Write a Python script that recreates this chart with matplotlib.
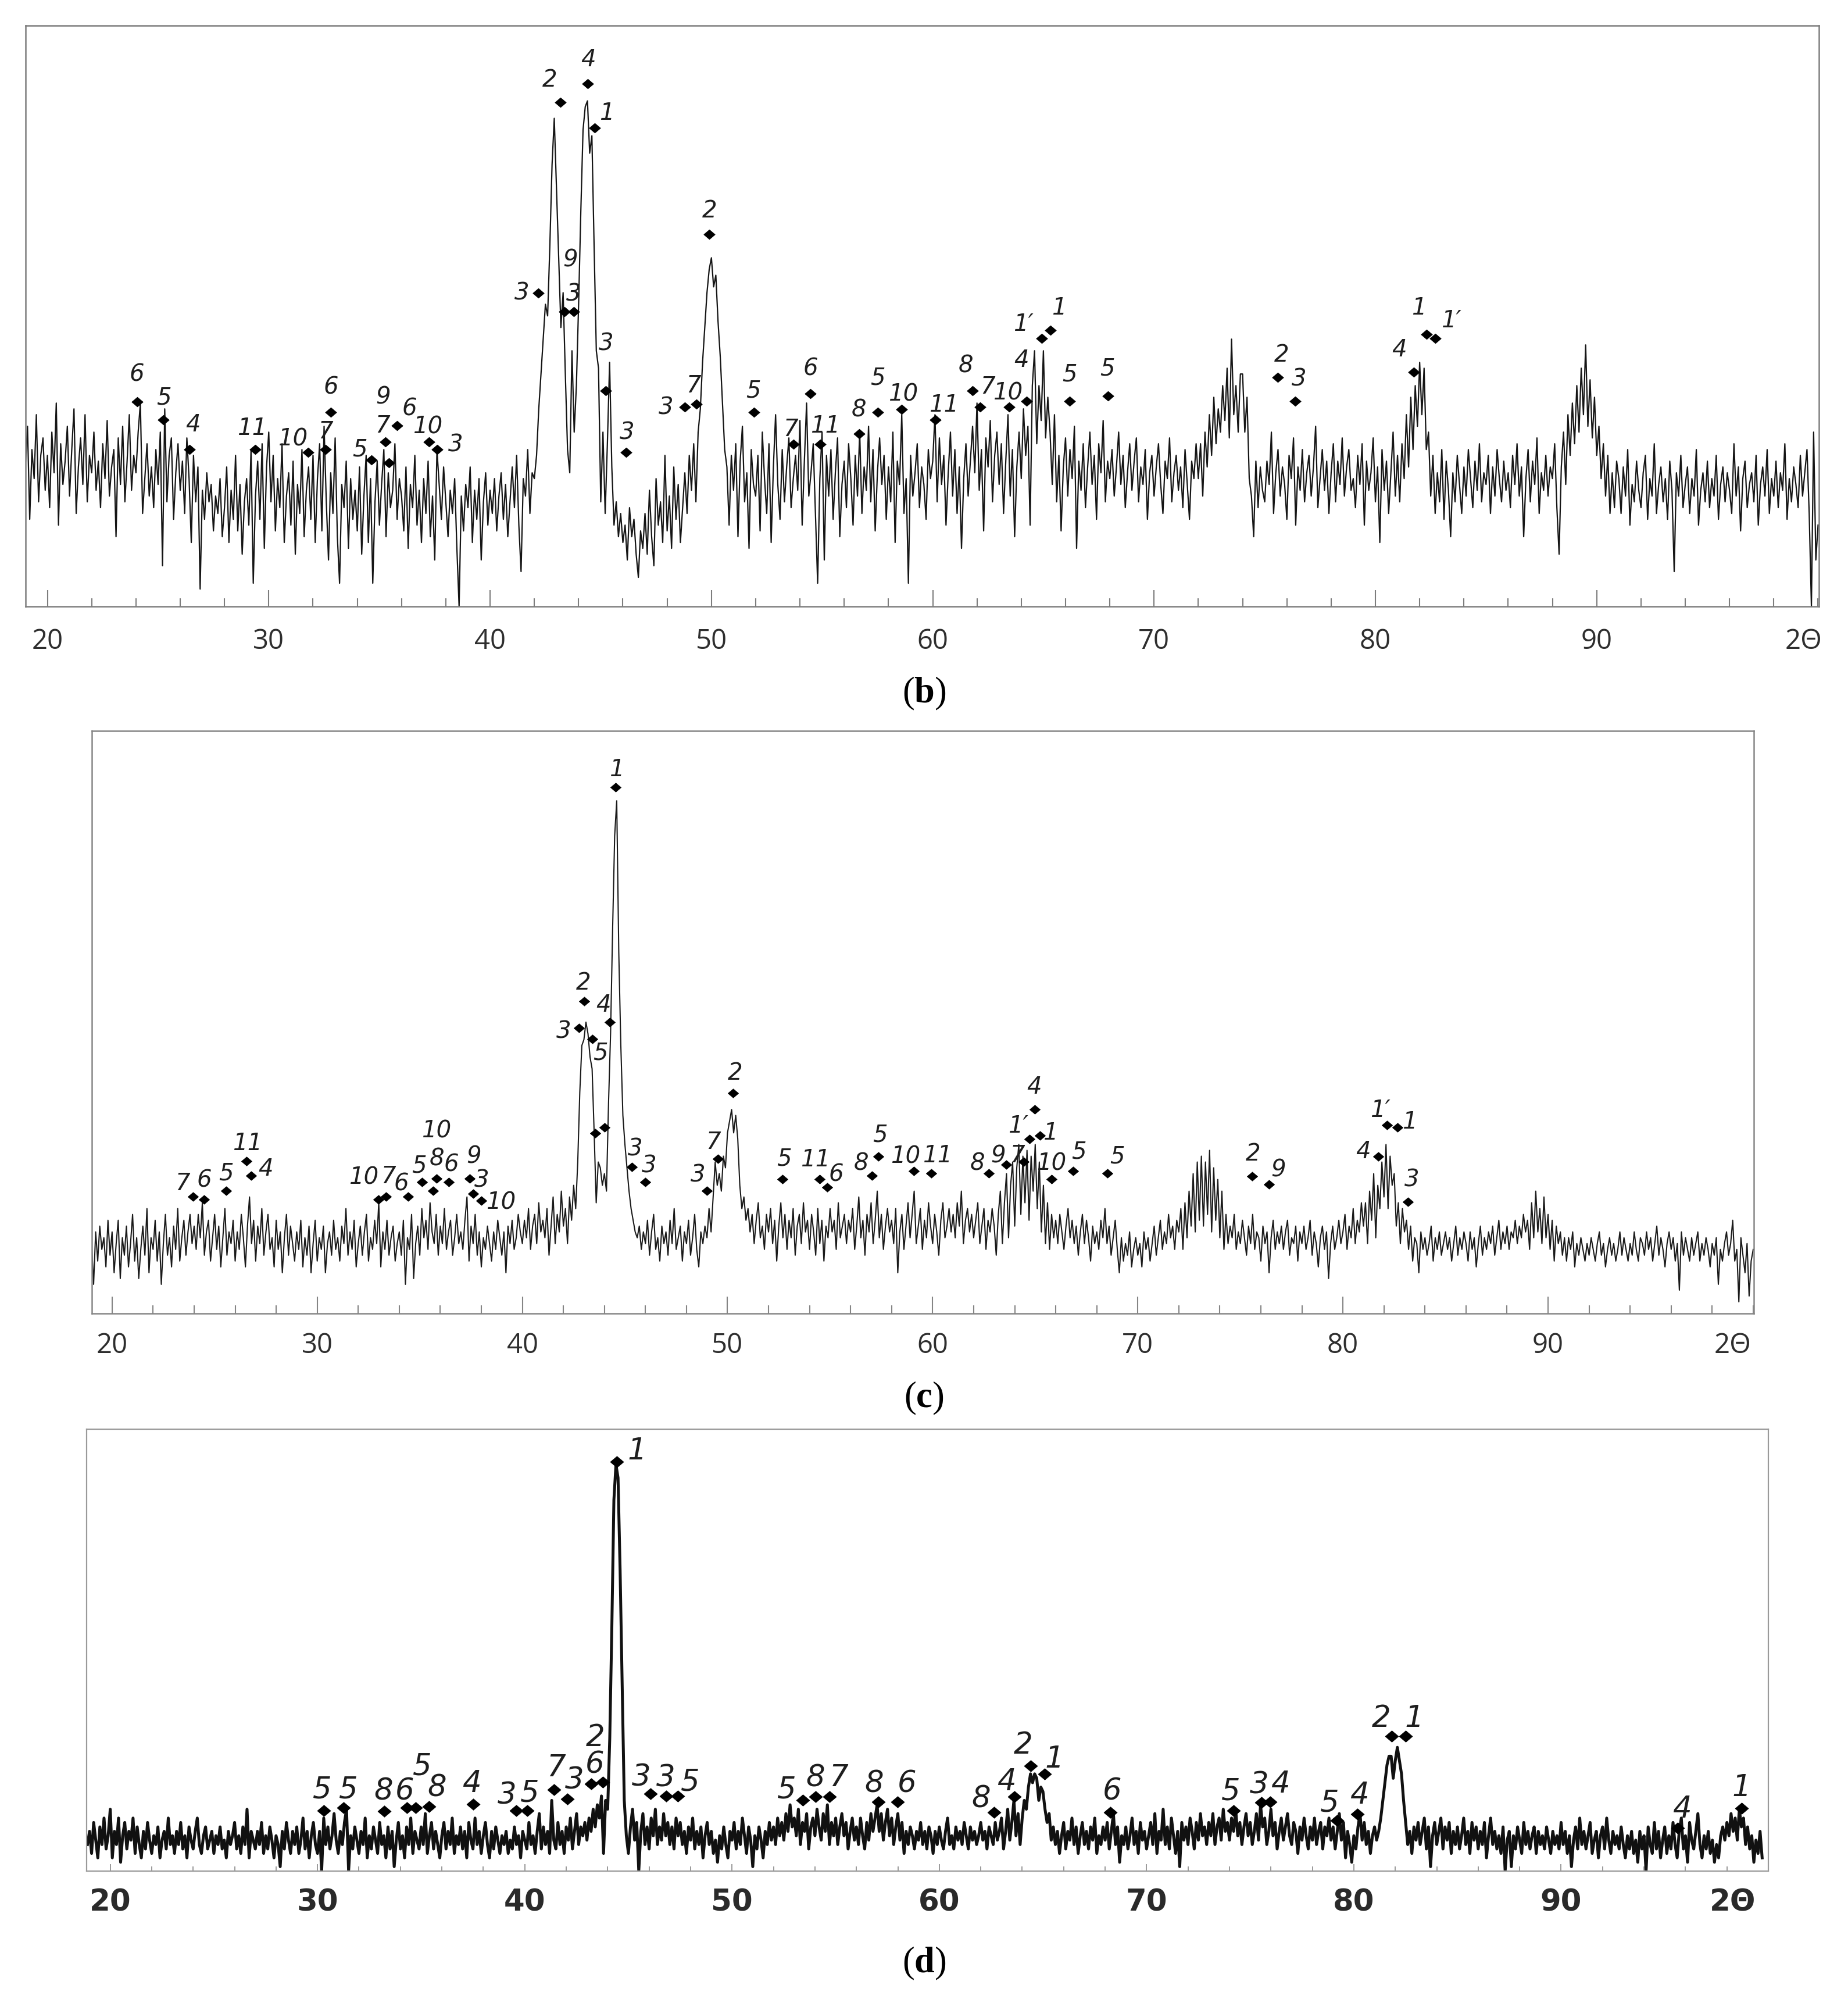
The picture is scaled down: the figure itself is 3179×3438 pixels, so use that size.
import numpy as np
import matplotlib
matplotlib.use("Agg")
import matplotlib.pyplot as plt

plt.rcParams["mathtext.fontset"] = "custom"
plt.rcParams["mathtext.rm"] = "Liberation Serif"
plt.rcParams["mathtext.bf"] = "Liberation Serif:bold"

# =============================================================================
# DATA
# =============================================================================
# intensity in % of frame height (0 = bottom), one value every 0.1 deg 2-theta

B_START = 19.0
INTENSITY_B = [
    24, 31, 15, 27, 22, 33, 18, 26, 29, 20,  # 19
    26, 17, 30, 23, 35, 14, 28, 21, 25, 31,  # 20
    19, 27, 34, 16, 24, 29, 21, 33, 18, 26,
    23, 30, 20, 25, 17, 28, 22, 32, 19, 24,
    27, 12, 29, 21, 31, 18, 25, 33, 20, 26,
    23, 30, 35, 16, 22, 28, 19, 24, 17, 27,
    21, 30, 7, 34, 18, 26, 29, 15, 23, 28,
    20, 25, 16, 29, 22, 11, 26, 18, 24, 3,
    20, 15, 23, 18, 21, 13, 19, 16, 22, 12,
    17, 24, 11, 20, 15, 26, 13, 21, 9, 18,
    22, 14, 27, 4, 19, 25, 15, 28, 10, 24,
    30, 18, 26, 13, 22, 17, 28, 11, 19, 23,  # 30
    14, 25, 9, 21, 16, 27, 12, 20, 24, 15,
    26, 11, 22, 28, 13, 31, 18, 8, 23, 16,
    29, 12, 4, 21, 17, 25, 10, 22, 15, 20,
    13, 24, 9, 19, 26, 11, 22, 4, 18, 25,
    14, 21, 27, 12, 23, 17, 20, 28, 15, 22,
    19, 13, 24, 10, 21, 17, 26, 14, 20, 11,
    22, 16, 25, 12, 19, 8, 27, 21, 15, 24,
    18, 12, 20, 16, 22, 10, 0, 19, 13, 21,
    17, 24, 11, 20, 15, 22, 8, 18, 23, 14,
    20, 16, 22, 13, 19, 23, 15, 21, 12, 18,  # 40
    24, 17, 26, 14, 6, 22, 19, 27, 16, 23,
    22, 26, 34, 40, 46, 52, 50, 62, 76, 84,
    72, 60, 48, 54, 40, 27, 23, 44, 30, 38,
    52, 68, 82, 86, 87, 78, 81, 62, 44, 41,
    18, 30, 16, 28, 42, 24, 14, 18, 12, 16,
    11, 14, 8, 17, 12, 15, 9, 5, 13, 10,
    16, 9, 20, 12, 7, 22, 14, 18, 11, 26,
    13, 19, 10, 24, 15, 21, 11, 17, 23, 16,
    26, 20, 28, 18, 30, 34, 42, 48, 54, 58,
    60, 55, 57, 49, 43, 35, 27, 24, 14, 26,  # 50
    20, 28, 12, 25, 31, 18, 23, 10, 27, 21,
    19, 26, 13, 30, 22, 16, 28, 11, 24, 33,
    21, 15, 27, 18, 24, 29, 17, 22, 26, 20,
    32, 14, 25, 35, 19, 23, 28, 16, 4, 22,
    30, 8, 26, 19, 27, 15, 23, 29, 12, 21,
    25, 17, 28, 22, 14, 26, 19, 30, 16, 24,
    20, 31, 18, 27, 13, 23, 29, 21, 26, 15,
    24, 18, 30, 11, 25, 21, 33, 16, 22, 4,
    26, 19, 23, 28, 17, 24, 21, 15, 27, 22,
    25, 33, 18, 29, 21, 26, 14, 23, 30, 19,  # 60
    27, 16, 24, 10, 22, 28, 19, 25, 31, 23,
    35, 20, 27, 13, 29, 24, 32, 18, 26, 30,
    21, 28, 16, 25, 33, 19, 27, 12, 24, 30,
    22, 34, 26, 31, 14, 38, 44, 28, 38, 32,
    44, 29, 36, 30, 21, 33, 18, 26, 13, 24,
    29, 19, 27, 22, 31, 10, 25, 20, 28, 17,
    24, 30, 21, 26, 15, 28, 23, 32, 18, 25,
    22, 27, 19, 24, 30, 21, 26, 17, 23, 28,
    20, 25, 29, 18, 24, 21, 27, 15, 23, 26,
    19, 24, 28, 21, 16, 25, 22, 29, 18, 23,  # 70
    26, 20, 24, 17, 27, 21, 15, 25, 22, 28,
    22, 28, 19, 30, 24, 33, 26, 36, 28, 34,
    30, 38, 32, 41, 29, 46, 33, 38, 30, 40,
    40, 30, 36, 22, 19, 12, 25, 17, 24, 20,
    18, 25, 21, 30, 16, 23, 27, 19, 24, 21,
    15, 26, 22, 29, 14, 24, 20, 27, 18, 23,
    26, 19, 24, 31, 17, 22, 27, 20, 25, 16,
    23, 28, 18, 25, 21, 29, 19, 24, 27, 20,
    22, 17, 26, 21, 28, 14, 25, 20, 23, 29,
    18, 24, 11, 27, 20, 25, 16, 23, 30, 19,  # 80
    26, 18, 28, 22, 33, 24, 36, 27, 38, 31,
    42, 33, 41, 27, 30, 19, 26, 16, 23, 18,
    27, 15, 25, 20, 12, 23, 18, 26, 21, 16,
    24, 19, 27, 22, 17, 25, 20, 28, 18, 23,
    21, 26, 16, 24, 19, 27, 22, 18, 25, 20,
    23, 17, 26, 21, 28, 19, 24, 12, 22, 27,
    18, 25, 21, 29, 16, 23, 20, 26, 19, 24,
    22, 28, 17, 9, 24, 30, 21, 33, 26, 35,
    28, 38, 30, 41, 33, 45, 31, 39, 29, 36,
    26, 31, 22, 28, 19, 26, 16, 23, 17, 25,  # 90
    22, 16, 24, 19, 27, 14, 21, 18, 25, 20,
    17, 23, 26, 15, 22, 19, 28, 16, 21, 24,
    18, 22, 15, 25, 20, 6, 23, 19, 26, 17,
    21, 24, 16, 22, 19, 27, 14, 20, 23, 18,
    25, 17, 22, 19, 26, 15, 21, 24, 18, 23,
    20, 16, 28, 19, 24, 13, 22, 25, 17, 21,
    23, 18, 26, 14, 21, 24, 19, 27, 16, 22,
    19, 25, 17, 23, 20, 28, 15, 22, 18, 24,
    21, 17, 26, 19, 23, 27, 16, 0, 30, 8,
    14,
]

PEAK_POS_B = [24.05, 25.25, 26.41, 29.40, 31.79, 32.57, 32.81, 34.63, 35.28,
              35.43, 35.80, 37.23, 37.60, 42.19, 43.17, 43.35, 43.78, 44.42,
              44.73, 45.23, 46.15, 48.80, 49.31, 49.91, 51.93, 53.72, 54.48,
              54.92, 56.67, 57.52, 58.60, 60.13, 61.79, 62.13, 63.45, 64.24,
              64.93, 65.33, 66.18, 67.91, 75.60, 76.38, 81.73, 82.31, 82.71]
PEAK_INT_B = [35.2, 32.1, 27.0, 27.0, 26.5, 27.0, 33.4, 25.2, 28.3,
              24.7, 31.1, 28.3, 27.0, 53.9, 86.8, 50.7, 50.7, 90.0,
              82.3, 37.1, 26.5, 34.3, 34.8, 64.0, 33.4, 27.9, 36.6,
              27.9, 29.7, 33.4, 33.9, 32.1, 37.1, 34.3, 34.3, 35.3,
              46.1, 47.5, 35.3, 36.2, 39.4, 35.3, 40.3, 46.8, 46.1]
PEAK_LAB_B = ["6", "5", "4", "11", "10", "7", "6", "5", "7",
              "9", "6", "10", "3", "3", "2", "9", "3", "4",
              "1", "3", "3", "3", "7", "2", "5", "7", "6",
              "11", "8", "5", "10", "11", "8", "7", "10", "4",
              "1\u2032", "1", "5", "5", "2", "3", "4", "1", "1\u2032"]

C_START = 19.0
INTENSITY_C = [
    12, 5, 14, 9, 15, 11, 13, 8, 16, 10,  # 19
    14, 7, 12, 16, 6, 13, 10, 15, 8, 12,  # 20
    17, 9, 13, 6, 11, 15, 10, 18, 7, 13,
    11, 16, 9, 14, 5, 12, 17, 10, 13, 8,
    15, 11, 18, 9, 13, 16, 10, 14, 17, 12,
    15, 11, 17, 13, 19, 10, 14, 16, 9, 13,
    17, 11, 15, 8, 13, 18, 10, 14, 12, 16,
    9, 14, 11, 17, 13, 8, 15, 20, 12, 16,
    9, 15, 12, 18, 10, 14, 17, 11, 13, 8,
    16, 11, 14, 7, 13, 17, 10, 15, 12, 9,
    14, 11, 16, 8, 13, 10, 15, 7, 12, 16,
    9, 13, 11, 15, 7, 12, 14, 10, 16, 11,  # 30
    13, 9, 15, 12, 18, 10, 14, 11, 16, 8,
    12, 15, 10, 14, 17, 9, 13, 11, 16, 12,
    19, 8, 14, 11, 16, 10, 13, 15, 9, 12,
    14, 10, 16, 5, 13, 11, 17, 6, 12, 15,
    10, 18, 13, 16, 11, 19, 14, 12, 17, 10,
    15, 12, 18, 11, 14, 16, 10, 13, 17, 12,
    14, 11, 16, 20, 9, 15, 12, 17, 10, 14,
    8, 13, 11, 15, 12, 9, 14, 11, 16, 13,
    10, 14, 7, 15, 12, 16, 11, 13, 17, 14,
    12, 16, 13, 18, 11, 15, 17, 12, 19, 14,  # 40
    16, 13, 18, 10, 15, 20, 12, 17, 14, 21,
    15, 18, 12, 20, 16, 22, 18, 26, 38, 46,
    47, 50, 48, 44, 42, 31, 19, 26, 25, 22,
    24, 21, 36, 48, 66, 82, 88, 62, 46, 34,
    29, 25, 21, 18, 16, 14, 13, 15, 11, 14,
    12, 16, 10, 14, 17, 11, 13, 9, 15, 12,
    14, 10, 16, 12, 18, 11, 13, 15, 9, 14,
    12, 16, 10, 13, 17, 11, 8, 14, 12, 15,
    13, 18, 14, 20, 26, 22, 24, 21, 27, 25,
    31, 33, 35, 31, 34, 30, 22, 18, 20, 16,  # 50
    18, 14, 17, 12, 16, 19, 13, 15, 11, 17,
    14, 18, 12, 16, 9, 15, 19, 13, 17, 11,
    16, 13, 18, 10, 15, 17, 12, 19, 14, 16,
    11, 17, 14, 10, 18, 12, 16, 9, 15, 13,
    18, 14, 16, 11, 19, 13, 15, 17, 12, 16,
    14, 18, 11, 15, 20, 13, 16, 10, 17, 14,
    19, 12, 16, 21, 13, 17, 11, 15, 18, 14,
    16, 12, 18, 7, 14, 17, 11, 15, 19, 13,
    17, 21, 12, 15, 18, 11, 16, 13, 19, 15,
    12, 17, 14, 10, 16, 19, 13, 15, 18, 14,  # 60
    17, 13, 19, 15, 21, 12, 16, 18, 14, 17,
    13, 16, 19, 12, 15, 18, 11, 16, 14, 18,
    15, 10, 17, 21, 12, 19, 24, 13, 22, 26,
    15, 25, 29, 17, 27, 19, 28, 16, 27, 21,
    29, 18, 26, 14, 22, 12, 19, 11, 17, 13,
    16, 12, 17, 14, 11, 15, 18, 13, 16, 12,
    15, 10, 14, 17, 12, 16, 13, 9, 15, 12,
    14, 11, 16, 13, 18, 12, 15, 10, 13, 16,
    11, 7, 13, 9, 12, 10, 14, 8, 11, 13,
    10, 12, 8, 14, 11, 13, 9, 12, 15, 10,  # 70
    13, 16, 11, 14, 12, 17, 13, 15, 11, 16,
    14, 18, 11, 19, 13, 21, 15, 24, 14, 26,
    16, 27, 15, 26, 17, 28, 14, 25, 16, 23,
    13, 21, 11, 17, 12, 15, 13, 17, 11, 14,
    12, 16, 13, 10, 15, 12, 17, 11, 14, 13,
    9, 15, 12, 14, 7, 13, 16, 11, 14, 12,
    15, 11, 14, 16, 10, 13, 12, 15, 9, 14,
    12, 15, 11, 13, 16, 10, 14, 12, 8, 13,
    15, 11, 14, 6, 12, 15, 11, 13, 16, 12,
    14, 17, 11, 15, 13, 18, 12, 16, 14, 19,  # 80
    15, 19, 12, 21, 16, 24, 13, 22, 18, 26,
    20, 29, 18, 27, 22, 24, 15, 19, 12, 18,
    14, 16, 11, 15, 9, 13, 12, 7, 14, 11,
    13, 10, 12, 15, 9, 13, 11, 14, 10, 12,
    14, 11, 13, 9, 12, 15, 10, 13, 11, 14,
    12, 9, 14, 11, 13, 8, 12, 15, 10, 13,
    11, 14, 12, 15, 10, 13, 16, 11, 14, 12,
    15, 11, 14, 13, 16, 12, 15, 13, 17, 14,
    16, 11, 19, 13, 21, 14, 18, 12, 20, 13,
    17, 11, 16, 9, 15, 12, 14, 10, 13, 9,  # 90
    13, 11, 14, 8, 12, 10, 13, 11, 9, 12,
    10, 13, 11, 9, 12, 14, 10, 12, 8, 11,
    13, 10, 12, 9, 11, 14, 10, 13, 11, 9,
    12, 10, 14, 11, 9, 13, 12, 10, 14, 11,
    13, 9, 12, 15, 10, 13, 11, 8, 12, 14,
    11, 13, 9, 12, 4, 14, 10, 13, 11, 9,
    13, 10, 12, 14, 9, 12, 10, 13, 11, 8,
    12, 10, 13, 5, 11, 9, 12, 14, 10, 12,
    16, 9, 11, 2, 13, 10, 7, 12, 3, 9,
    11,
]

PEAK_POS_C = [23.94, 24.47, 25.57, 26.54, 26.78, 32.98, 33.36, 34.42, 35.11,
              35.81, 35.65, 36.40, 37.44, 37.60, 38.00, 42.75, 43.02, 43.40,
              44.26, 43.56, 44.00, 44.54, 45.33, 45.99, 48.99, 49.53, 50.26,
              52.68, 54.50, 54.86, 57.05, 57.36, 59.08, 59.93, 62.75, 63.60,
              64.45, 64.72, 64.99, 65.22, 65.80, 66.85, 68.53, 75.57, 76.40,
              81.72, 82.14, 82.65, 83.17]
PEAK_INT_C = [20.1, 19.6, 21.1, 26.1, 23.7, 19.6, 20.1, 20.1, 22.6,
              23.2, 21.1, 22.6, 23.2, 20.6, 19.4, 49.0, 53.6, 47.1,
              50.0, 30.9, 31.9, 90.3, 25.1, 22.6, 21.1, 26.5, 37.8,
              23.1, 23.1, 21.7, 23.7, 26.9, 24.5, 24.1, 24.1, 25.5,
              26.0, 29.9, 35.0, 30.5, 23.1, 24.5, 24.1, 23.6, 22.2,
              26.9, 32.3, 31.9, 19.2]
PEAK_LAB_C = ["7", "6", "5", "11", "4", "10", "7", "6", "5",
              "8", "10", "6", "9", "3", "10", "3", "2", "5",
              "4", "", "", "1", "3", "3", "3", "7", "2",
              "5", "11", "6", "8", "5", "10", "11", "8", "9",
              "7", "1\u2032", "4", "1", "10", "5", "5", "2", "9",
              "4", "1\u2032", "1", "3"]

D_START = 18.9
INTENSITY_D = [
    6,
    9, 4, 11, 7, 3, 10, 6, 12, 5, 8,  # 19
    14, 3, 9, 6, 12, 2, 8, 11, 5, 9,  # 20
    7, 12, 4, 10, 6, 3, 9, 5, 11, 7,
    4, 8, 6, 10, 3, 7, 9, 5, 12, 6,
    8, 4, 9, 6, 11, 5, 8, 3, 10, 7,
    5, 9, 12, 6, 4, 8, 10, 5, 7, 9,
    4, 8, 6, 10, 5, 7, 3, 9, 6, 8,
    11, 5, 8, 4, 10, 6, 14, 3, 9, 7,
    5, 9, 6, 11, 4, 8, 5, 10, 7, 3,
    8, 6, 1, 9, 5, 11, 7, 4, 9, 6,
    10, 4, 7, 12, 5, 9, 3, 8, 11, 6,
    4, 9, 0, 12, 6, 10, 5, 8, 13, 7,  # 30
    4, 9, 6, 11, 14, 0, 8, 5, 10, 7,
    4, 9, 6, 12, 3, 8, 5, 10, 7, 4,
    11, 6, 8, 3, 10, 5, 9, 1, 7, 11,
    5, 8, 3, 10, 6, 12, 4, 9, 7, 5,
    10, 6, 13, 4, 8, 11, 5, 9, 6, 3,
    8, 11, 5, 9, 6, 12, 4, 8, 6, 10,
    5, 9, 3, 11, 7, 5, 12, 6, 9, 4,
    8, 11, 6, 3, 9, 5, 10, 7, 4, 8,
    6, 9, 4, 7, 5, 10, 6, 8, 3, 9,
    7, 5, 11, 6, 8, 4, 9, 13, 5, 10,  # 40
    6, 9, 4, 16, 7, 5, 11, 6, 9, 4,
    10, 7, 12, 5, 9, 13, 6, 10, 8, 11,
    7, 12, 9, 14, 10, 15, 12, 17, 4, 16,
    14, 30, 55, 84, 92, 89, 68, 42, 16, 8,
    4, 10, 14, 7, 11, 0, 9, 13, 6, 10,
    5, 12, 8, 14, 6, 10, 7, 13, 8, 11,
    6, 10, 5, 12, 8, 11, 6, 9, 4, 10,
    7, 12, 5, 9, 6, 10, 3, 8, 11, 6,
    9, 4, 7, 2, 8, 5, 10, 6, 3, 9,
    7, 11, 5, 9, 6, 12, 8, 4, 10, 7,  # 50
    1, 8, 5, 10, 7, 3, 9, 6, 11, 7,
    10, 6, 12, 8, 11, 7, 13, 9, 15, 10,
    12, 8, 14, 6, 11, 9, 13, 5, 10, 12,
    8, 14, 10, 7, 13, 9, 15, 6, 11, 8,
    12, 6, 10, 13, 8, 11, 5, 9, 12, 7,
    10, 6, 12, 8, 5, 11, 7, 13, 9, 12,
    15, 9, 13, 7, 11, 14, 8, 12, 6, 10,
    13, 7, 11, 4, 9, 6, 10, 8, 5, 9,
    7, 11, 6, 9, 5, 10, 8, 4, 9, 6,
    10, 7, 5, 9, 12, 6, 8, 5, 10, 7,  # 60
    9, 6, 11, 8, 5, 10, 7, 9, 6, 8,
    11, 7, 9, 5, 10, 8, 6, 11, 7, 9,
    12, 5, 9, 14, 7, 11, 16, 8, 13, 6,
    12, 16, 14, 19, 22, 20, 22, 21, 16, 19,
    18, 14, 11, 13, 7, 10, 6, 9, 4, 8,
    11, 5, 9, 7, 12, 6, 10, 4, 8, 11,
    6, 9, 5, 10, 7, 12, 4, 8, 6, 10,
    7, 11, 5, 9, 13, 6, 10, 2, 8, 6,
    10, 5, 8, 12, 6, 9, 4, 11, 7, 9,
    5, 8, 11, 6, 13, 4, 9, 7, 14, 6,  # 70
    10, 5, 12, 8, 4, 9, 1, 11, 7, 10,
    6, 12, 9, 5, 11, 7, 13, 8, 10, 6,
    11, 8, 13, 6, 10, 12, 7, 14, 9, 11,
    7, 12, 9, 14, 8, 11, 6, 10, 13, 8,
    11, 6, 9, 13, 7, 15, 10, 12, 6, 9,
    14, 8, 11, 5, 9, 12, 7, 10, 13, 8,
    6, 11, 9, 4, 10, 7, 12, 8, 5, 10,
    7, 12, 6, 9, 11, 5, 10, 8, 12, 7,
    10, 5, 9, 13, 7, 11, 3, 9, 6, 2,
    8, 5, 10, 13, 7, 11, 6, 9, 4, 8,  # 80
    10, 7, 9, 12, 16, 20, 24, 26, 26, 21,
    25, 28, 25, 22, 16, 11, 6, 9, 4, 10,
    7, 11, 6, 9, 12, 5, 10, 1, 8, 11,
    6, 9, 12, 5, 10, 7, 11, 4, 9, 6,
    10, 5, 8, 12, 6, 9, 4, 11, 7, 10,
    5, 9, 6, 11, 3, 8, 12, 6, 9, 5,
    8, 4, 10, 0, 7, 9, 1, 8, 5, 10,
    7, 4, 11, 6, 9, 5, 8, 10, 4, 9,
    6, 8, 5, 10, 7, 4, 9, 6, 8, 5,
    11, 6, 9, 4, 8, 1, 7, 10, 5, 12,  # 90
    6, 9, 5, 8, 11, 4, 7, 9, 3, 8,
    10, 5, 12, 7, 4, 9, 6, 8, 5, 10,
    6, 3, 8, 5, 9, 4, 7, 2, 9, 5,
    8, 0, 10, 6, 4, 11, 5, 9, 3, 7,
    10, 4, 8, 5, 11, 6, 3, 9, 12, 5,
    8, 2, 11, 7, 5, 9, 13, 6, 3, 8,
    5, 9, 4, 7, 2, 6, 3, 8, 10, 7,
    11, 8, 13, 9, 12, 7, 14, 10, 12, 6,
    10, 5, 8, 2, 7, 4, 9, 3,
]

PEAK_POS_D = [30.29, 31.27, 33.23, 34.31, 34.74, 35.39, 37.52, 39.60, 40.13,
              41.40, 42.05, 43.21, 43.76, 44.44, 46.07, 46.83, 47.38, 53.40,
              54.04, 54.70, 57.07, 57.99, 62.63, 63.61, 64.41, 65.08, 68.24,
              74.19, 75.55, 75.95, 79.18, 80.16, 81.82, 82.51, 95.63, 98.70]
PEAK_INT_D = [13.7, 14.3, 13.6, 14.3, 14.3, 14.6, 15.1, 13.7, 13.7,
              18.4, 16.3, 19.7, 20.1, 92.6, 17.5, 17.0, 17.0, 16.0,
              16.8, 16.8, 15.7, 15.7, 13.3, 16.8, 23.8, 22.0, 13.3,
              13.7, 15.5, 15.7, 11.4, 12.9, 30.5, 30.5, 9.8, 14.2]
PEAK_LAB_D = ["5", "5", "8", "6", "5", "8", "4", "3", "5",
              "7", "3", "6", "2", "1", "3", "3", "5", "5",
              "8", "7", "8", "6", "8", "4", "2", "1", "6",
              "5", "3", "4", "5", "4", "2", "1", "4", "1"]

XTICKS = [20, 30, 40, 50, 60, 70, 80, 90]

# =============================================================================
# LAYOUT (label offsets in pixels from the diamond)
# =============================================================================

SHIFT_B = [(0, 50), (1, 41), (6, 46), (-6, 40), (-27, 26), (0, 34), (0, 46),
           (-20, 21), (-5, 31), (-10, 116), (21, 32), (-2, 29), (32, 11),
           (-29, 3), (-18, 41), (10, 92), (0, 33), (1, 44), (21, 29), (1, 84),
           (2, 37), (-32, 2), (-4, 35), (0, 44), (-1, 40), (-5, 29), (0, 46),
           (9, 35), (0, 44), (0, 62), (2, 29), (14, 29), (-11, 46), (13, 38),
           (-2, 27), (-9, 74), (-32, 28), (14, 42), (0, 49), (-1, 50), (6, 42),
           (7, 41), (-25, 42), (-13, 49), (27, 34)]

SHIFT_C = [(-18, 25), (1, 36), (0, 33), (2, 34), (25, 14), (-25, 41), (4, 37),
           (-11, 25), (-5, 31), (1, 37), (6, 106), (5, 33), (7, 41), (15, 26),
           (34, 0), (-26, -3), (-1, 34), (14, -21), (-11, 33), (0, 0), (0, 0),
           (2, 34), (6, 34), (7, 31), (-15, 30), (-8, 32), (4, 38), (3, 38),
           (-8, 36), (15, 25), (-19, 24), (3, 40), (-14, 28), (11, 33),
           (-20, 20), (-14, 18), (-11, 14), (-20, 26), (-1, 42), (18, 8),
           (0, 30), (10, 36), (17, 32), (2, 41), (16, 28), (-26, 12),
           (-11, 29), (21, 13), (7, 41)]

SHIFT_D = [(-2, 38), (8, 34), (-2, 36), (-4, 31), (11, 74), (13, 35), (-3, 38),
           (-16, 28), (4, 32), (4, 40), (12, 35), (6, 36), (-13, 79), (35, 21),
           (-16, 30), (-1, 33), (21, 26), (-27, 21), (-1, 35), (16, 35),
           (-8, 33), (16, 33), (-22, 25), (-13, 28), (-13, 38), (17, 28),
           (3, 38), (-4, 35), (-4, 33), (18, 33), (-12, 33), (4, 35),
           (-18, 33), (14, 33), (7, 35), (0, 38)]

DIAMOND = [(-1, 0), (0, 0.85), (1, 0), (0, -0.85), (-1, 0)]

W, H = 3179, 3438


def rect_px(left, top, right, bottom):
    return [left / W, 1 - bottom / H, (right - left) / W, (bottom - top) / H]


STYLE_B = dict(rect=rect_px(43.5, 43.6, 3129, 1043), xlim=(19.0, 100.04),
               lw=1.6, line="#151515", ms=14, lab_fs=29, frame="#7d7d7d",
               frame_w=1.8, major=20, minor=10, tick_w=1.5, pad=26,
               tick_fs=34, tick_font="Open Sans", tick_weight="normal",
               tick_color="#2e2e2e", theta_x=99.35)
STYLE_C = dict(rect=rect_px(157.5, 1257, 3017, 2259), xlim=(19.0, 100.03),
               lw=1.5, line="#1a1a1a", ms=13, lab_fs=29, frame="#858585",
               frame_w=1.8, major=21, minor=10, tick_w=1.5, pad=23,
               tick_fs=34, tick_font="Open Sans", tick_weight="normal",
               tick_color="#2e2e2e", theta_x=98.99)
STYLE_D = dict(rect=rect_px(149, 2458, 3042, 3218), xlim=(18.86, 99.7),
               lw=3.6, line="#111111", ms=16.5, lab_fs=37, frame="#9a9a9a",
               frame_w=1.6, major=9, minor=6, tick_w=1.4, pad=21,
               tick_fs=37, tick_font="DejaVu Sans", tick_weight="bold",
               tick_color="#2a2a2a", theta_x=98.27)


def draw_panel(fig, start, inten, pos, height, labels, shifts, st):
    ax = fig.add_axes(st["rect"])
    x = start + 0.1 * np.arange(len(inten))
    ax.plot(x, inten, color=st["line"], lw=st["lw"])
    ax.plot(pos, height, ls="none", marker=DIAMOND, ms=st["ms"],
            mfc="black", mec="black", mew=0.6)
    for p, h, lab, (dx, dy) in zip(pos, height, labels, shifts):
        if not lab:
            continue
        ax.annotate(lab, (p, h), xytext=(dx, dy - 3), textcoords="offset pixels",
                    ha="center", va="center", fontsize=st["lab_fs"],
                    family="DejaVu Sans", style="italic", color="#1e1e1e")
    ax.set_xlim(*st["xlim"])
    ax.set_ylim(0, 100)
    ax.set_yticks([])
    ax.set_xticks(XTICKS, labels=[str(t) for t in XTICKS],
                  fontsize=st["tick_fs"], fontfamily=st["tick_font"],
                  fontweight=st["tick_weight"], color=st["tick_color"])
    ax.set_xticks(np.arange(20, 101, 2), minor=True)
    ax.tick_params(axis="x", which="both", direction="in", color=st["frame"],
                   width=st["tick_w"], pad=st["pad"])
    ax.tick_params(axis="x", which="major", length=st["major"])
    ax.tick_params(axis="x", which="minor", length=st["minor"])
    for sp in ax.spines.values():
        sp.set_color(st["frame"])
        sp.set_linewidth(st["frame_w"])
    ax.annotate("2\u0398", xy=(st["theta_x"], 0),
                xycoords=("data", "axes fraction"),
                xytext=(0, -st["pad"]), textcoords="offset points",
                ha="center", va="top", fontsize=st["tick_fs"],
                family=st["tick_font"], weight=st["tick_weight"],
                color=st["tick_color"])
    return ax


fig = plt.figure(figsize=(W / 100, H / 100), dpi=100)

draw_panel(fig, B_START, INTENSITY_B, PEAK_POS_B, PEAK_INT_B, PEAK_LAB_B,
           SHIFT_B, STYLE_B)
draw_panel(fig, C_START, INTENSITY_C, PEAK_POS_C, PEAK_INT_C, PEAK_LAB_C,
           SHIFT_C, STYLE_C)
draw_panel(fig, D_START, INTENSITY_D, PEAK_POS_D, PEAK_INT_D, PEAK_LAB_D,
           SHIFT_D, STYLE_D)

for yc, letter in [(1193, "b"), (2405, "c"), (3377, "d")]:
    fig.text(0.5, 1 - yc / H, r"($\mathbf{%s}$)" % letter, ha="center",
             va="center", fontsize=45, family="Liberation Serif", color="black")

fig.savefig("out.png", dpi=100)
